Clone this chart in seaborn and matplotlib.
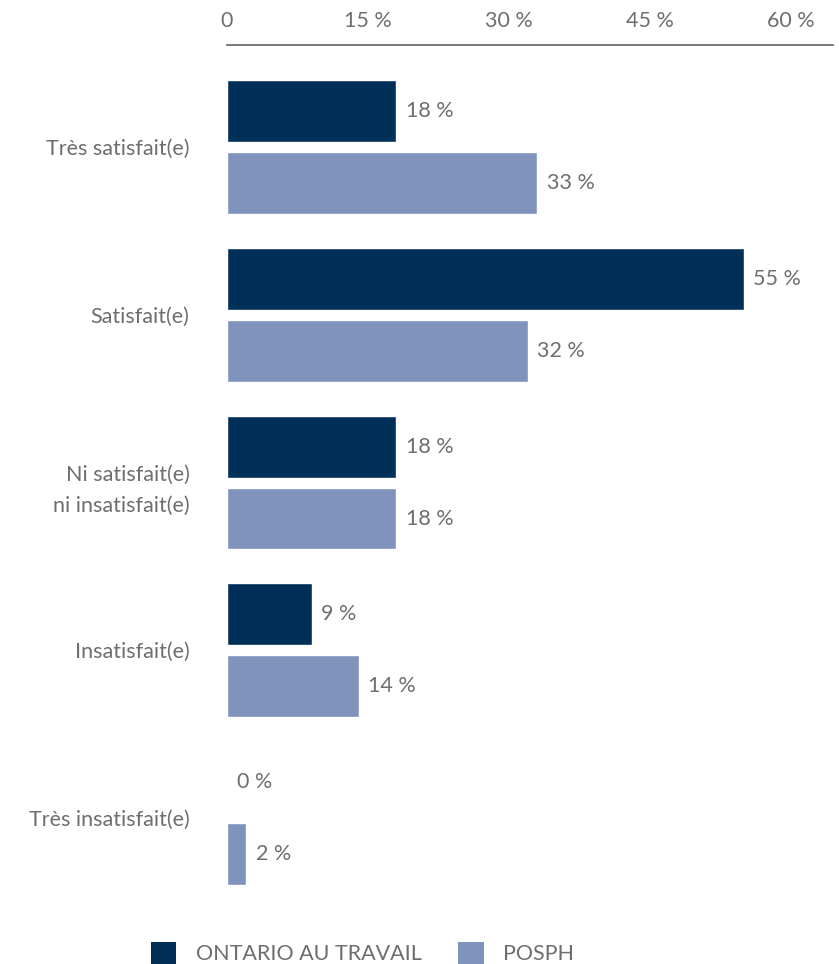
import matplotlib
matplotlib.use("Agg")
import matplotlib.pyplot as plt
from matplotlib.patches import Patch
import seaborn as sns
import pandas as pd

# Satisfaction levels and shares (%) for each programme
categories = [
    "Très satisfait(e)",
    "Satisfait(e)",
    "Ni satisfait(e)\nni insatisfait(e)",
    "Insatisfait(e)",
    "Très insatisfait(e)",
]
series_names = ["ONTARIO AU TRAVAIL", "POSPH"]
ontario_travail = [18, 55, 18, 9, 0]
posph = [33, 32, 18, 14, 2]
tick_values = [0, 15, 30, 45, 60]
tick_labels = ["0", "15 %", "30 %", "45 %", "60 %"]

colors = ["#003057", "#7f93bc"]
text_color = "#6d6e71"
font_size = 15.5

df = pd.DataFrame({
    "categorie": categories * 2,
    "programme": [series_names[0]] * len(categories) + [series_names[1]] * len(categories),
    "pourcentage": ontario_travail + posph,
})

sns.set_theme(style="white")
plt.rcParams["font.family"] = ["Lato", "DejaVu Sans"]

fig = plt.figure(figsize=(8.39, 9.64), dpi=100)
ax = fig.add_axes([227 / 839, 1 - 902 / 964, (833 - 227) / 839, (902 - 45) / 964])

sns.barplot(
    data=df, y="categorie", x="pourcentage", hue="programme",
    order=categories, hue_order=series_names, palette=colors,
    orient="h", width=0.857, gap=0.14, saturation=1, legend=False, ax=ax,
)

# value labels at the end of each bar
for container, values in zip(ax.containers, [ontario_travail, posph]):
    ax.bar_label(container, labels=[f"{v} %" for v in values], padding=7,
                 color=text_color, fontsize=font_size)

ax.set_xlim(0, 64.5)
ax.set_ylim(4.5, -0.608)
ax.set_xlabel("")
ax.set_ylabel("")

# percentage axis drawn along the top
ax.xaxis.tick_top()
ax.set_xticks(tick_values)
ax.set_xticklabels(tick_labels)
ax.tick_params(axis="x", length=0, pad=10, labelsize=font_size, labelcolor=text_color)
ax.tick_params(axis="y", length=0, pad=27, labelsize=font_size, labelcolor=text_color)
for lbl in ax.get_yticklabels():
    lbl.set_linespacing(1.7)

for side in ["bottom", "left", "right"]:
    ax.spines[side].set_visible(False)
ax.spines["top"].set_color(text_color)
ax.spines["top"].set_linewidth(1.3)

handles = [Patch(facecolor=c, edgecolor="none") for c in colors]
fig.legend(
    handles, series_names, loc="center", bbox_to_anchor=(0.432, 1 - 953 / 964),
    ncol=2, frameon=False, fontsize=font_size, labelcolor=text_color,
    handlelength=1.2, handleheight=1.2, handletextpad=0.9, columnspacing=1.7,
)

fig.savefig("out.png", dpi=100)
